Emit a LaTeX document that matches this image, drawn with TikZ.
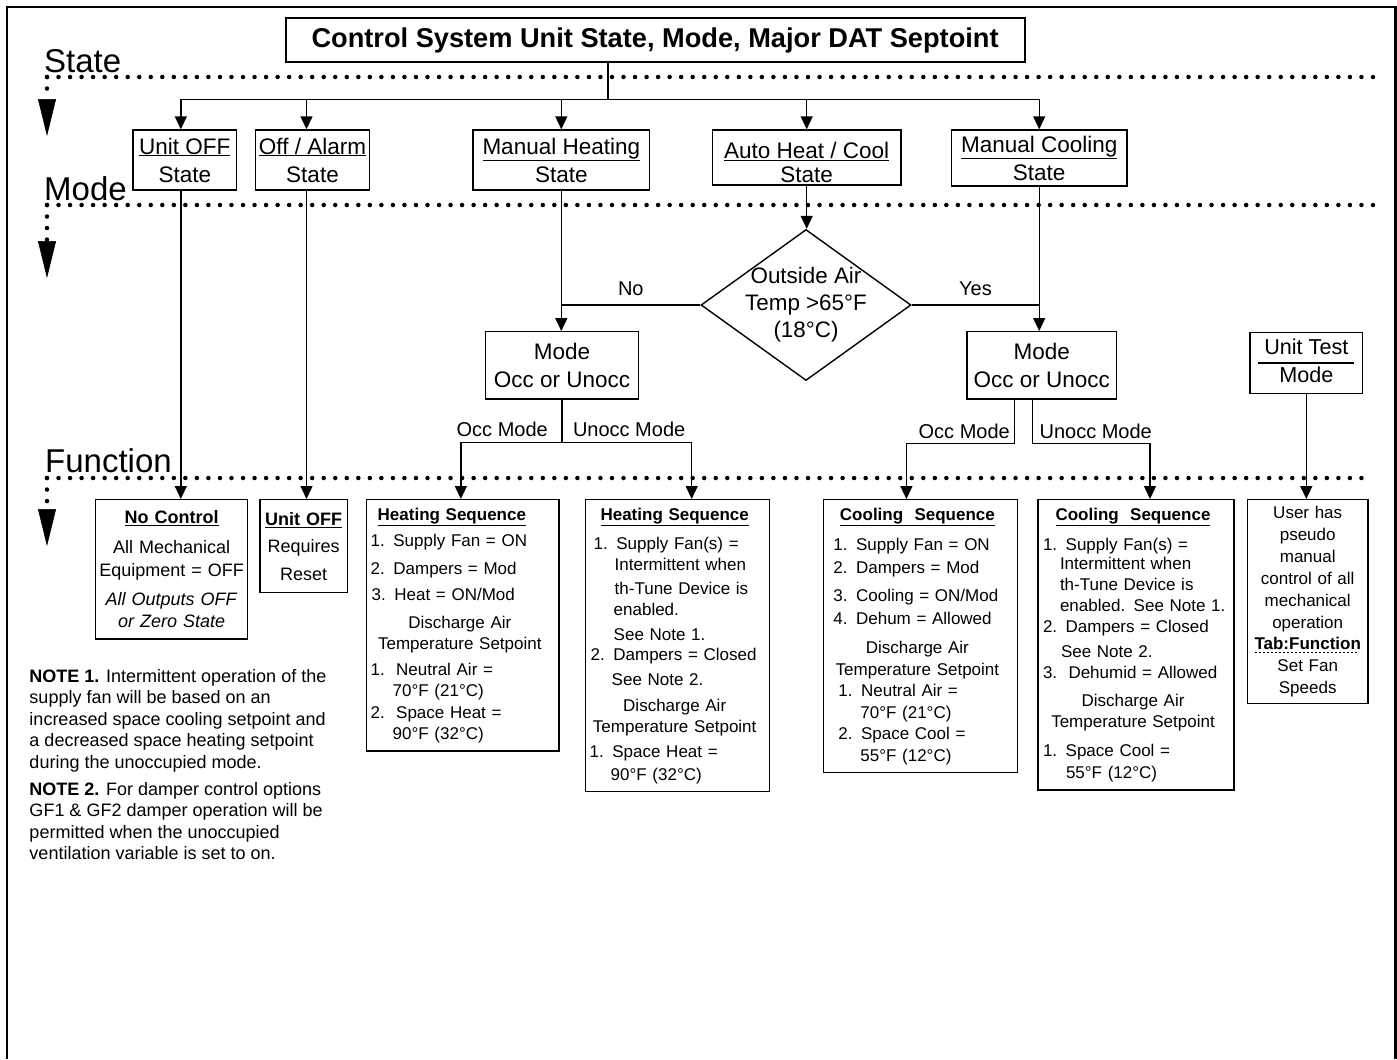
\documentclass[tikz,border=0pt]{standalone}
\usepackage{fontspec}
\setmainfont{Liberation Sans}
\usetikzlibrary{arrows.meta,shapes.geometric}
\newcommand\fsz[2]{\fontsize{#1bp}{#2bp}\selectfont}
\newcommand\ctr[1]{\makebox[\dimexpr\linewidth-6bp\relax][c]{#1}}
\newsavebox\tabfnbox
\newcommand\dashund[1]{\leavevmode\sbox\tabfnbox{#1}\vtop{\offinterlineskip\copy\tabfnbox\kern2bp
  \hbox to\wd\tabfnbox{\leaders\hbox to 4bp{\vrule width 2.5bp height 1.2bp\hfil}\hfill}}}

\begin{document}
\begin{tikzpicture}[x=1bp,y=-1bp,
    statebox/.style={draw,line width=1.4bp,align=center,font=\fsz{22.5}{28},inner sep=2bp},
    fnbox/.style={draw,line width=1.4bp,anchor=north west,inner xsep=4bp,inner ysep=8bp,font=\fsz{17}{21.5}},
    decision/.style={draw,diamond,line width=1.4bp,aspect=1.39,inner sep=-20bp,minimum width=210bp,minimum height=151bp,align=center,font=\fsz{22.4}{27}},
    link/.style={line width=1.4bp},
    arr/.style={line width=1.4bp,-{Triangle[width=12bp,length=13bp]}},
    dotline/.style={line width=4.5bp,line cap=round,dash pattern=on 0bp off 11.53bp},
    dotarr/.style={dotline,-{Triangle[width=18bp,length=37bp,line width=0.5bp]}},
    lbl/.style={font=\fsz{20}{24},inner sep=0pt,text depth=0pt},
    lane/.style={font=\fsz{33}{40},inner sep=0pt,anchor=base west}]
  \useasboundingbox (0,0) rectangle (1397,1059);
  \draw[line width=2.5bp] (7,1059) -- (7,7) -- (1395.5,7) -- (1395.5,1059);

  % lanes
  \draw[dotline] (47,77) -- (1373,77);
  \draw[dotarr] (47,77) -- (47,136);
  \draw[dotline] (47,205) -- (1373,205);
  \draw[dotarr] (47,205) -- (47,278);
  \draw[dotline] (47,478) -- (1364,478);
  \draw[dotarr] (47,478) -- (47,546);
  \node[lane] (lstate) at (44,72) {State};
  \node[lane] (lmode) at (44,200) {Mode};
  \node[lane] (lfunc) at (45,472) {Function};

  % state level
  \node[draw,line width=2bp,minimum width=738.8bp,minimum height=43.4bp,inner sep=0pt,font=\bfseries\fsz{27.2}{32}] (title) at (655.1,40) {Control System Unit State, Mode, Major DAT Septoint};
  \node[statebox,minimum width=103.6bp,minimum height=60bp] (unitoff) at (184.8,160) {\underline{Unit OFF}\\State};
  \node[statebox,minimum width=114.2bp,minimum height=60bp] (offalarm) at (312.5,160) {\underline{Off / Alarm}\\State};
  \node[statebox,minimum width=176.6bp,minimum height=60bp] (mheat) at (561.3,160) {\underline{Manual Heating}\\State};
  \node[statebox,minimum width=188.5bp,minimum height=55bp,font=\fsz{22.5}{23.5}] (autohc) at (806.7,157.5) {\rule{0pt}{26.4bp}\underline{Auto Heat / Cool}\\State};
  \node[statebox,minimum width=175.5bp,minimum height=56bp] (mcool) at (1039.2,158) {\underline{Manual Cooling}\\State};

  \coordinate (split) at (608,99.5);
  \draw[link] (title.south -| split) -- (split);
  \draw[arr] (split) -| ([xshift=-4bp]unitoff.north);
  \draw[arr] (split) -| ([xshift=-6bp]offalarm.north);
  \draw[arr] (split) -| (mheat.north);
  \draw[arr] (split) -| (autohc.north);
  \draw[arr] (split) -| (mcool.north);

  % mode level
  \node[decision] (oat) at (806,305) {Outside Air\\Temp >65°F\\(18°C)};
  \node[statebox,minimum width=152.7bp,minimum height=67.3bp] (heatmode) at (562,365.4) {Mode\\Occ or Unocc};
  \node[statebox,minimum width=149.5bp,minimum height=67.3bp] (coolmode) at (1041.7,365.4) {Mode\\Occ or Unocc};
  \node[draw,line width=1.4bp,minimum width=112.7bp,minimum height=60.6bp,inner sep=0pt,font=\fsz{21.6}{27}] (testmode) at (1306.3,363) {\setlength\arrayrulewidth{1.2bp}\begin{tabular}{@{\hspace{6bp}}c@{\hspace{6bp}}}Unit Test\\\hline Mode\end{tabular}};

  \draw[arr] (autohc.south) -- (autohc.south |- oat.north);
  \draw[arr] (mheat.south) -- (mheat.south |- heatmode.north);
  \draw[arr] (mcool.south) -- (mcool.south |- coolmode.north);
  \draw[link] (oat.west) -- node[lbl,above=9bp] (lno) {No} (oat.west -| mheat.south);
  \draw[link] (oat.east) -- node[lbl,above=9bp] (lyes) {Yes} (oat.east -| mcool.south);

  % function level
  \node[fnbox,align=center,font=\fsz{18}{22.5},text width=145.7bp,inner xsep=3bp,inner ysep=11bp] (nocontrol) at (95,499) {%
    \underline{\textbf{No Control}}\\[7bp]
    All Mechanical\\[1bp]
    Equipment = OFF\\[6bp]
    \textit{All Outputs OFF}\\
    \textit{or Zero State}};
  \node[fnbox,align=center,font=\fsz{18}{22.5},text width=81.4bp,inner xsep=3bp,inner ysep=12.4bp] (reset) at (259.3,499) {%
    \underline{\textbf{Unit OFF}}\\[5bp]
    Requires\\[5bp]
    Reset};
  \node[fnbox,align=left,text width=184.3bp] (heatocc) at (366,499) {%
    \hspace*{7bp}\underline{\textbf{Heating Sequence}}\\[5bp]
    1. Supply Fan = ON\\[6bp]
    2. Dampers = Mod\\[5bp]
    \hspace*{1bp}3. Heat = ON/Mod\\[6bp]
    \ctr{Discharge Air}\\
    \ctr{Temperature Setpoint}\\[4bp]
    1.\ \ Neutral Air =\\
    \hspace*{22bp}70°F (21°C)\\
    2.\ \ Space Heat =\\
    \hspace*{22bp}90°F (32°C)};
  \node[fnbox,align=left,text width=176bp] (heatunocc) at (585,499) {%
    \ctr{\underline{\textbf{Heating Sequence}}}\\[8bp]
    \hspace*{4bp}1. Supply Fan(s) =\\[-1bp]
    \hspace*{25bp}Intermittent when\\[3bp]
    \hspace*{25bp}th-Tune Device is\\[-0.5bp]
    \hspace*{24bp}enabled.\\[3bp]
    \hspace*{24bp}See Note 1.\\[-1bp]
    \hspace*{1bp}2. Dampers = Closed\\[3bp]
    \hspace*{22bp}See Note 2.\\[4.5bp]
    \ctr{Discharge Air}\\
    \ctr{Temperature Setpoint}\\[3.5bp]
    1. Space Heat =\\[1bp]
    \hspace*{21bp}90°F (32°C)};
  \node[fnbox,align=left,text width=186bp] (coolocc) at (822.7,499) {%
    \ctr{\underline{\textbf{Cooling\ \ Sequence}}}\\[9bp]
    \hspace*{6bp}1. Supply Fan = ON\\[1bp]
    \hspace*{6bp}2. Dampers = Mod\\[7bp]
    \hspace*{6bp}3. Cooling = ON/Mod\\[1bp]
    \hspace*{6bp}4. Dehum = Allowed\\[8bp]
    \ctr{Discharge Air}\\
    \ctr{Temperature Setpoint}\\
    \hspace*{11bp}1. Neutral Air =\\
    \hspace*{33bp}70°F (21°C)\\
    \hspace*{11bp}2. Space Cool =\\
    \hspace*{33bp}55°F (12°C)};
  \node[fnbox,align=left,text width=188bp,font=\fsz{17}{20.5}] (coolunocc) at (1037.3,499) {%
    \ctr{\underline{\textbf{Cooling\ \ Sequence}}}\\[10bp]
    \hspace*{1bp}1. Supply Fan(s) =\\[-2bp]
    \hspace*{18bp}Intermittent when\\[1bp]
    \hspace*{18bp}th-Tune Device is\\
    \hspace*{18bp}enabled. See Note 1.\\[1bp]
    \hspace*{1bp}2. Dampers = Closed\\[4bp]
    \hspace*{19bp}See Note 2.\\[1bp]
    \hspace*{1bp}3.\ \ Dehumid = Allowed\\[7bp]
    \ctr{Discharge Air}\\[1bp]
    \ctr{Temperature Setpoint}\\[8bp]
    \hspace*{1bp}1. Space Cool =\\[2bp]
    \hspace*{24bp}55°F (12°C)};
  \node[fnbox,align=center,text width=114.6bp,inner xsep=3bp,inner ysep=6.5bp,font=\fsz{17}{21.9}] (testfn) at (1246.7,499) {%
    User has\\pseudo\\manual\\control of all\\mechanical\\operation\\
    \dashund{\textbf{Tab:Function}}\\Set Fan\\Speeds};

  \draw[arr] ([xshift=-4bp]unitoff.south) -- ([xshift=-4bp]unitoff.south |- nocontrol.north);
  \draw[arr] ([xshift=-6bp]offalarm.south) -- ([xshift=-6bp]offalarm.south |- reset.north);
  \draw[link] (heatmode.south) -- ++(0,43) coordinate (hsplit);
  \draw[arr] (hsplit) -| ([xshift=-2bp]heatocc.north);
  \draw[arr] (hsplit) -| ([xshift=14bp]heatunocc.north);
  \draw[arr] ([xshift=-27bp]coolmode.south) -- ++(0,44) -| ([xshift=-14bp]coolocc.north);
  \draw[arr] ([xshift=-9bp]coolmode.south) -- ++(0,44) -| ([xshift=14bp]coolunocc.north);
  \draw[arr] (testmode.south) -- (testmode.south |- testfn.north);
  \node[lbl,anchor=base east] (hocc) at (548,436.5) {Occ Mode};
  \node[lbl,anchor=base west] (hunocc) at (572.8,436.5) {Unocc Mode};
  \node[lbl,anchor=base east] (cocc) at (1010,438) {Occ Mode};
  \node[lbl,anchor=base west] (cunocc) at (1039.4,438) {Unocc Mode};

  % notes
  \node[anchor=north west,align=left,inner sep=0pt,font=\fsz{18}{21.5}] (note1) at (29.3,669) {%
    \textbf{NOTE 1.} Intermittent operation of the\\
    supply fan will be based on an\\
    increased space cooling setpoint and\\
    a decreased space heating setpoint\\
    during the unoccupied mode.};
  \node[anchor=north west,align=left,inner sep=0pt,font=\fsz{18}{21.5}] (note2) at (29.3,782) {%
    \textbf{NOTE 2.} For damper control options\\
    GF1 \& GF2 damper operation will be\\
    permitted when the unoccupied\\
    ventilation variable is set to on.};
\end{tikzpicture}
\end{document}
